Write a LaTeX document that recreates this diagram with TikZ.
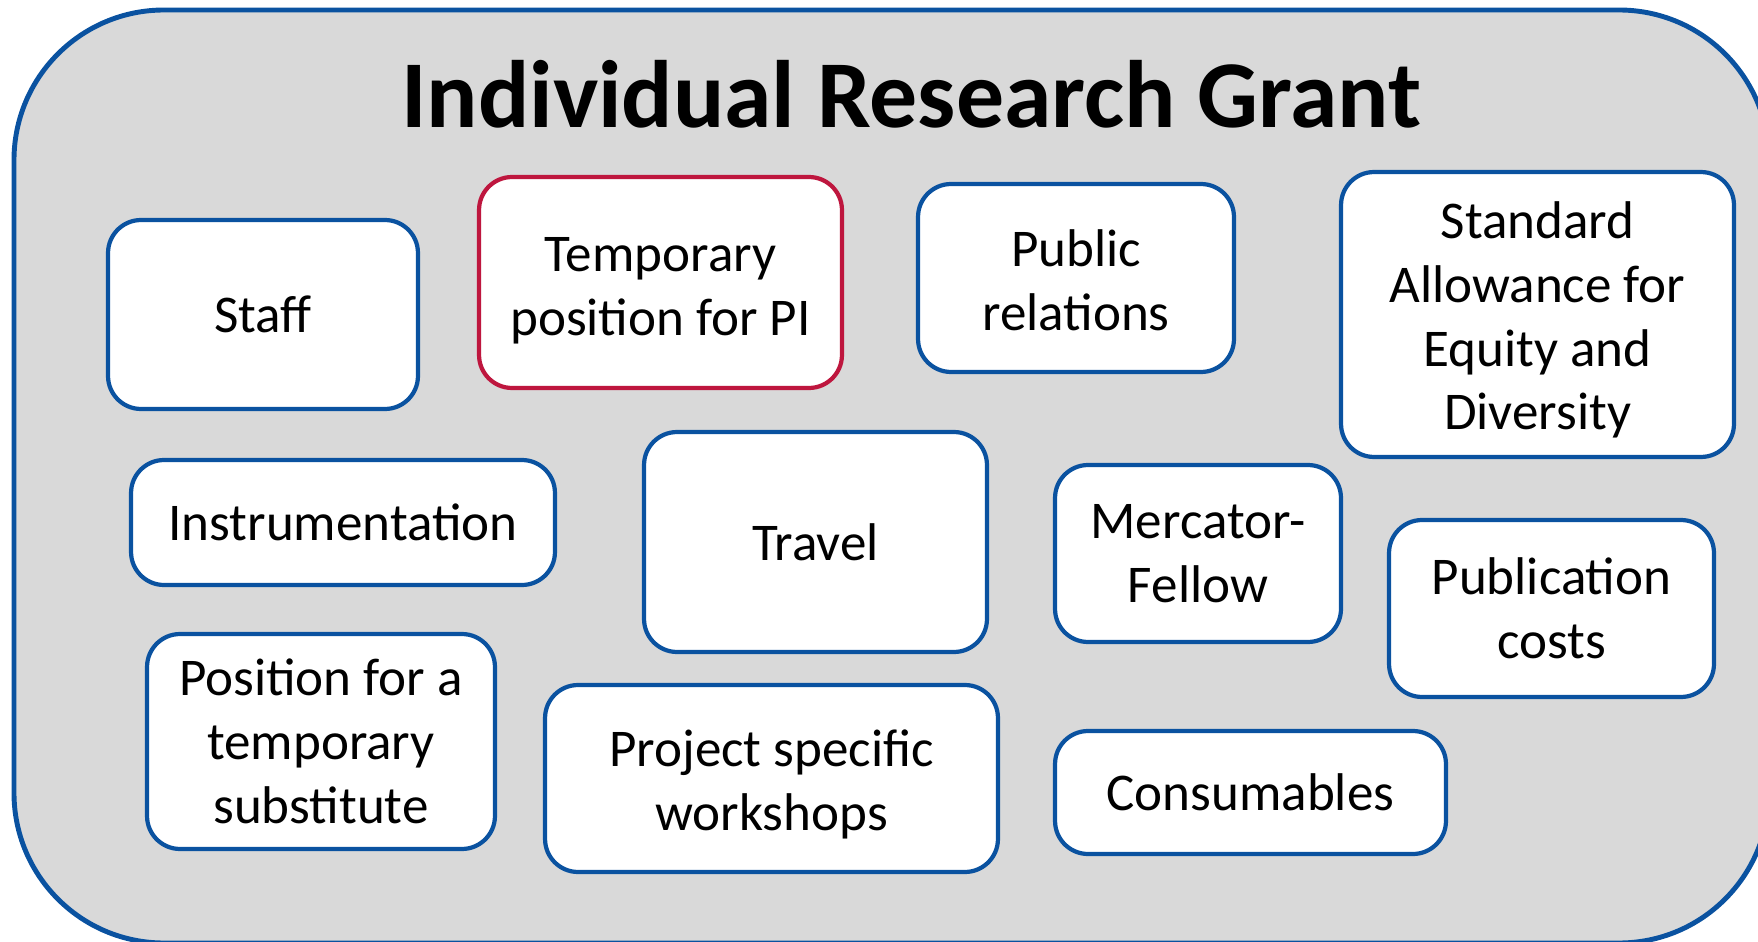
\documentclass[tikz,border=0pt]{standalone}
\usepackage{fontspec}
\setmainfont{Carlito}
\usepackage{tikz}
\usetikzlibrary{calc}

\definecolor{grantblue}{RGB}{10,82,160}
\definecolor{grantred}{RGB}{190,22,62}
\definecolor{grantgray}{RGB}{217,217,217}

\tikzset{
    item/.style={draw=grantblue, line width=2.4pt, fill=white, rounded corners=0.66cm,
        align=center, inner sep=0pt, font=\fontsize{30.2}{36.4}\selectfont},
    itemred/.style={item, draw=grantred}
}

\begin{document}
\begin{tikzpicture}[x=0.02cm,y=-0.02cm]
        \path[use as bounding box, clip] (0,0) rectangle (1758,942);
        \draw[grantblue, line width=2.8pt, fill=grantgray, rounded corners=3cm] (14,10) rectangle (1769,943);

        \node[anchor=base, font=\fontsize{54.5}{60}\selectfont\bfseries] (title) at (911,128) {Individual Research Grant};

        \node[item, minimum width=6.2cm, minimum height=3.78cm] (staff) at (263,314.5) {Staff};
        \node[itemred, minimum width=7.26cm, minimum height=4.22cm, text height=65.5pt] (tempPI) at (660.5,282.5) {Temporary\\position for PI};
        \node[item, minimum width=6.32cm, minimum height=3.76cm, text height=60.5pt] (public) at (1076,278) {Public\\relations};
        \node[item, minimum width=7.86cm, minimum height=5.7cm, text height=136.3pt] (equity) at (1537.5,314.5) {Standard\\Allowance for\\Equity and\\Diversity};

        \node[item, minimum width=8.48cm, minimum height=2.5cm] (instr) at (343,522.5) {Instrumentation};
        \node[item, minimum width=6.86cm, minimum height=4.4cm] (travel) at (815.5,542) {Travel};
        \node[item, minimum width=5.72cm, minimum height=3.54cm] (mercator) at (1198,553.5) {Mercator-\\Fellow};
        \node[item, minimum width=6.5cm, minimum height=3.54cm] (publ) at (1551.5,608.5) {Publication\\costs};

        \node[item, minimum width=6.96cm, minimum height=4.3cm] (subst) at (321,741.5) {Position for a\\temporary\\substitute};
        \node[item, minimum width=9.06cm, minimum height=3.74cm, text height=64.2pt] (workshop) at (771.5,778.5) {Project specific\\workshops};
        \node[item, minimum width=7.82cm, minimum height=2.46cm] (consum) at (1250.5,792.5) {Consumables};
    \end{tikzpicture}
\end{document}
